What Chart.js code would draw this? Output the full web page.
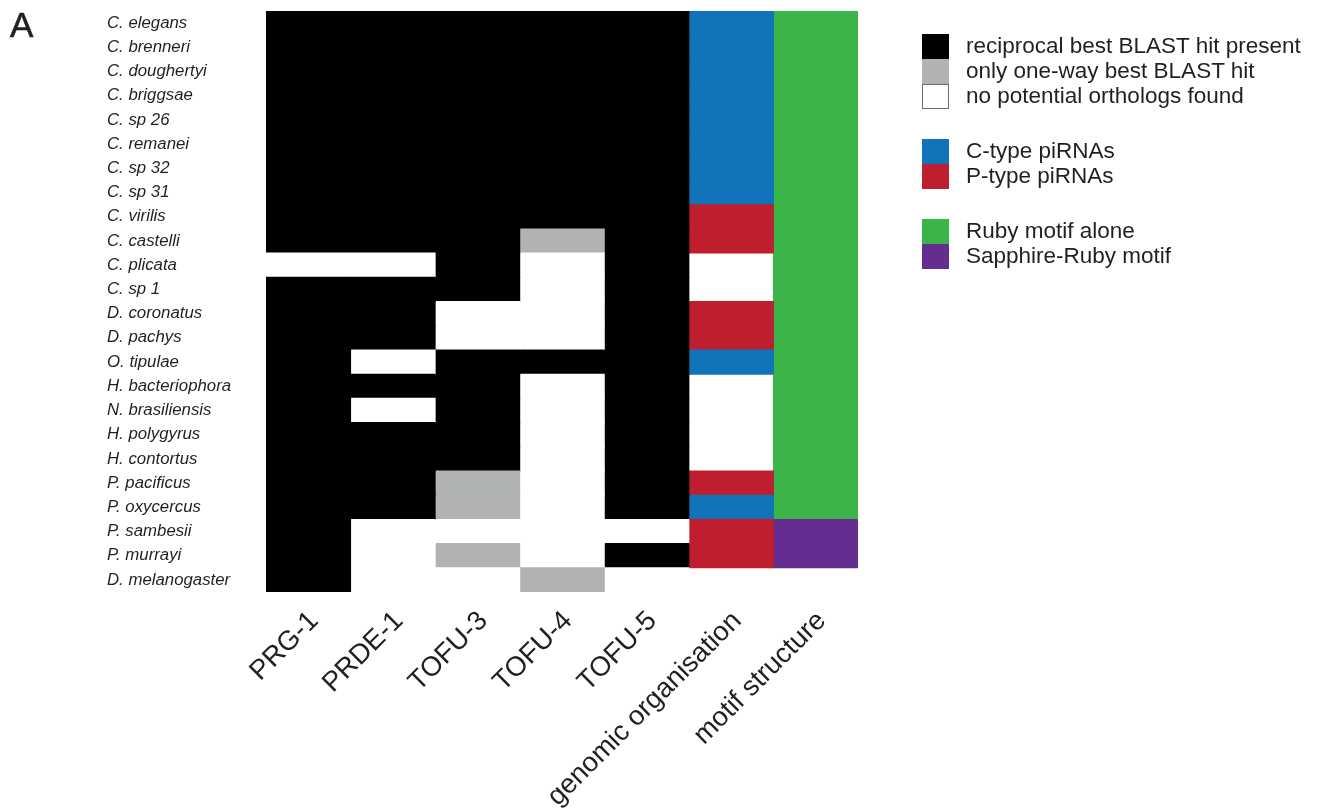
<!DOCTYPE html>
<html>
<head>
<meta charset="utf-8">
<script src="https://cdn.jsdelivr.net/npm/chart.js@4.4.1/dist/chart.umd.min.js"></script>
<style>
  html, body { margin: 0; padding: 0; background: #ffffff; }
  #wrap { position: relative; width: 1324px; height: 810px; }
  #panel { position: absolute; left: 10px; top: 5px; font: 35px "Liberation Sans", Arial, sans-serif; color: #231f20; -webkit-text-stroke: 0.6px #231f20; }
  #legend { position: absolute; left: 922px; top: 0; font-family: "Liberation Sans", Arial, sans-serif; font-size: 22.5px; color: #231f20; }
  .grp { position: absolute; left: 0; white-space: nowrap; }
  .row { height: 25px; display: flex; align-items: center; }
  .sw { width: 27px; height: 25px; box-sizing: border-box; margin-right: 17px; flex: none; }
  .sw.outline { border: 1.5px solid #6d6e70; }
</style>
</head>
<body>
<div id="wrap">
  <canvas id="chart"></canvas>
  <div id="panel">A</div>
  <div id="legend"></div>
</div>
<script>
// Species (rows, top to bottom)
const species = [
  'C. elegans', 'C. brenneri', 'C. doughertyi', 'C. briggsae', 'C. sp 26',
  'C. remanei', 'C. sp 32', 'C. sp 31', 'C. virilis', 'C. castelli',
  'C. plicata', 'C. sp 1', 'D. coronatus', 'D. pachys', 'O. tipulae',
  'H. bacteriophora', 'N. brasiliensis', 'H. polygyrus', 'H. contortus',
  'P. pacificus', 'P. oxycercus', 'P. sambesii', 'P. murrayi', 'D. melanogaster'
];

// Column labels
const columns = ['PRG-1', 'PRDE-1', 'TOFU-3', 'TOFU-4', 'TOFU-5', 'genomic organisation', 'motif structure'];

// Ortholog status: 2 = reciprocal best BLAST hit, 1 = one-way best hit, 0 = none found
const prg1  = [2,2,2,2,2,2,2,2,2,2, 0,2,2,2,2,2,2,2,2,2,2,2,2,2];
const prde1 = [2,2,2,2,2,2,2,2,2,2, 0,2,2,2,0,2,0,2,2,2,2,0,0,0];
const tofu3 = [2,2,2,2,2,2,2,2,2,2, 2,2,0,0,2,2,2,2,2,1,1,0,1,0];
const tofu4 = [2,2,2,2,2,2,2,2,2,1, 0,0,0,0,2,0,0,0,0,0,0,0,0,1];
const tofu5 = [2,2,2,2,2,2,2,2,2,2, 2,2,2,2,2,2,2,2,2,2,2,0,2,0];

// piRNA genomic organisation: 'C' = C-type, 'P' = P-type, null = not determined
const genomic = ['C','C','C','C','C','C','C','C','P','P', null,null,'P','P','C',null,null,null,null,'P','C','P','P',null];
// Motif structure: 'R' = Ruby motif alone, 'SR' = Sapphire-Ruby motif
const motif = ['R','R','R','R','R','R','R','R','R','R','R','R','R','R','R','R','R','R','R','R','R','SR','SR',null];

// Legend groups
const legendOrtholog = ['reciprocal best BLAST hit present', 'only one-way best BLAST hit', 'no potential orthologs found'];
const legendGenomic  = ['C-type piRNAs', 'P-type piRNAs'];
const legendMotif    = ['Ruby motif alone', 'Sapphire-Ruby motif'];

const statusColors = { 2: '#000000', 1: '#b1b3b3', 0: '#ffffff' };
const genomicColors = { C: '#1174bb', P: '#be1e2d' };
const motifColors = { R: '#3bb44a', SR: '#662d91' };

const orthologCols = [prg1, prde1, tofu3, tofu4, tofu5];

// One floating-bar dataset per column; each bar spans [col, col + 1] on the x scale
const datasets = [];
orthologCols.forEach((vals, c) => {
  datasets.push({
    label: columns[c],
    data: vals.map(() => [c, c + 1]),
    backgroundColor: vals.map(v => statusColors[v])
  });
});
datasets.push({
  label: columns[5],
  data: genomic.map(g => g ? [5, 6] : null),
  backgroundColor: genomic.map(g => g ? genomicColors[g] : '#ffffff')
});
datasets.push({
  label: columns[6],
  data: motif.map(m => m ? [6, 7] : null),
  backgroundColor: motif.map(m => m ? motifColors[m] : '#ffffff')
});
datasets.forEach(d => {
  d.barPercentage = 1;
  d.categoryPercentage = 1;
  d.borderWidth = 0;
  d.inflateAmount = 0.5;
  d.grouped = false;
});

const textColor = '#231f20';
const fontFamily = '"Liberation Sans", Arial, Helvetica, sans-serif';

new Chart(document.getElementById('chart'), {
  type: 'bar',
  data: { labels: species, datasets },
  options: {
    indexAxis: 'y',
    responsive: true,
    maintainAspectRatio: false,
    animation: false,
    layout: { padding: { left: 107, right: 466, top: 11, bottom: 0 } },
    plugins: { legend: { display: false }, tooltip: { enabled: false } },
    scales: {
      x: {
        type: 'linear',
        min: 0,
        max: columns.length,
        grid: { display: false, drawTicks: false },
        border: { display: false },
        afterBuildTicks: s => { s.ticks = columns.map((_, i) => ({ value: i + 0.5 })); },
        afterFit: s => { s.height = 218; },
        ticks: {
          autoSkip: false,
          minRotation: 45,
          maxRotation: 45,
          padding: 13,
          labelOffset: 6,
          color: textColor,
          font: { family: fontFamily, size: 27.5 },
          callback: (v, i) => columns[i]
        }
      },
      y: {
        type: 'category',
        grid: { display: false, drawTicks: false },
        border: { display: false },
        afterFit: s => { s.width = 159; },
        ticks: {
          crossAlign: 'far',
          autoSkip: false,
          padding: 0,
          color: textColor,
          font: { family: fontFamily, size: 16.8, style: 'italic' }
        }
      }
    }
  }
});

// Legend
const legendEl = document.getElementById('legend');
function addGroup(top, labels, colors, outlined) {
  const g = document.createElement('div');
  g.className = 'grp';
  g.style.top = top + 'px';
  labels.forEach((t, i) => {
    const r = document.createElement('div');
    r.className = 'row';
    const sw = document.createElement('div');
    sw.className = 'sw' + (outlined[i] ? ' outline' : '');
    sw.style.background = colors[i];
    const tx = document.createElement('span');
    tx.textContent = t;
    r.appendChild(sw);
    r.appendChild(tx);
    g.appendChild(r);
  });
  legendEl.appendChild(g);
}
addGroup(33.5, legendOrtholog, [statusColors[2], statusColors[1], statusColors[0]], [false, false, true]);
addGroup(138.5, legendGenomic, [genomicColors.C, genomicColors.P], [false, false]);
addGroup(218.5, legendMotif, [motifColors.R, motifColors.SR], [false, false]);
</script>
</body>
</html>
